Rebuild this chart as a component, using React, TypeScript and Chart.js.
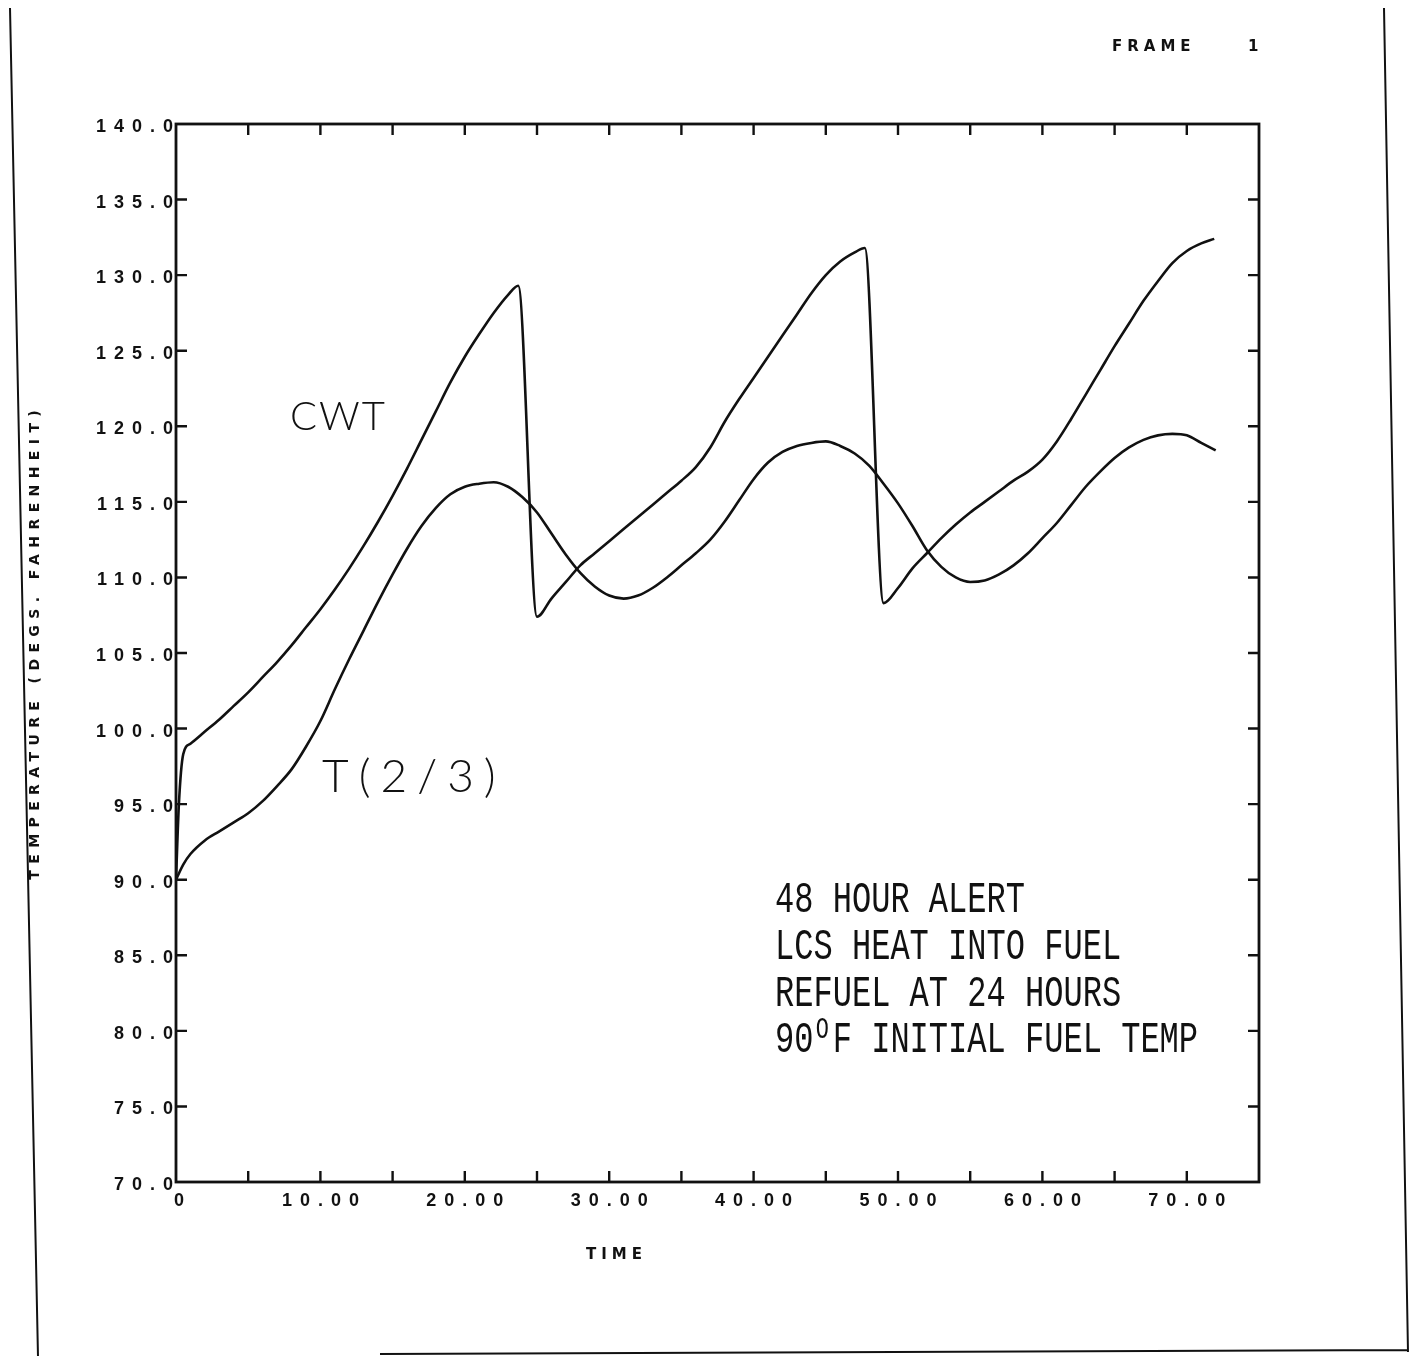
import { useEffect, useRef } from 'react';
import { Chart, registerables } from 'chart.js';

Chart.register(...registerables);

// ---- data ----
const cwtTime = [0, 0.2, 0.5, 1, 2, 3, 4, 5, 6, 7, 8, 9, 10, 11, 12, 13, 14, 15, 16, 17, 18, 19, 20, 21, 22, 23, 23.7, 25.0, 26, 27, 28, 29, 30, 31, 32, 33, 34, 35, 36, 37, 38, 39, 40, 41, 42, 43, 44, 45, 46, 47, 47.7, 49.0, 50, 51, 52, 53, 54, 55, 56, 57, 58, 59, 60, 61, 62, 63, 64, 65, 66, 67, 68, 69, 70, 71, 71.9];
const cwtTemp = [90, 95, 98.3, 99.0, 99.8, 100.6, 101.5, 102.4, 103.4, 104.4, 105.5, 106.7, 107.9, 109.2, 110.6, 112.1, 113.7, 115.4, 117.2, 119.1, 121.0, 122.9, 124.6, 126.1, 127.5, 128.7, 129.3, 107.4, 108.6, 109.7, 110.8, 111.6, 112.4, 113.2, 114.0, 114.8, 115.6, 116.4, 117.3, 118.6, 120.3, 121.8, 123.2, 124.6, 126.0, 127.4, 128.8, 130.0, 130.9, 131.5, 131.8, 108.3, 109.3, 110.6, 111.6, 112.6, 113.5, 114.3, 115.0, 115.7, 116.4, 117.0, 117.8, 119.0, 120.5, 122.1, 123.7, 125.3, 126.8, 128.3, 129.6, 130.8, 131.6, 132.1, 132.4];

const t23Time = [0, 0.5, 1, 2, 3, 4, 5, 6, 7, 8, 9, 10, 11, 12, 13, 14, 15, 16, 17, 18, 19, 20, 21, 22, 23, 24, 25, 26, 27, 28, 29, 30, 31, 32, 33, 34, 35, 36, 37, 38, 39, 40, 41, 42, 43, 44, 45, 46, 47, 48, 49, 50, 51, 52, 53, 54, 55, 56, 57, 58, 59, 60, 61, 62, 63, 64, 65, 66, 67, 68, 69, 70, 71, 72];
const t23Temp = [90, 91.0, 91.7, 92.6, 93.2, 93.8, 94.4, 95.2, 96.2, 97.3, 98.8, 100.5, 102.6, 104.6, 106.5, 108.4, 110.2, 111.9, 113.4, 114.6, 115.5, 116.0, 116.2, 116.3, 116.0, 115.3, 114.3, 112.9, 111.5, 110.3, 109.4, 108.8, 108.6, 108.8, 109.3, 110.0, 110.8, 111.6, 112.5, 113.7, 115.1, 116.5, 117.6, 118.3, 118.7, 118.9, 119.0, 118.7, 118.2, 117.4, 116.2, 114.9, 113.4, 111.8, 110.7, 110.0, 109.7, 109.8, 110.2, 110.8, 111.6, 112.6, 113.6, 114.8, 116.0, 117.0, 117.9, 118.6, 119.1, 119.4, 119.5, 119.4, 118.9, 118.4];

const xTickValues = [0, 10, 20, 30, 40, 50, 60, 70];
const xTickLabels = ['0', '10.00', '20.00', '30.00', '40.00', '50.00', '60.00', '70.00'];
const xMinorTicks = [5, 10, 15, 20, 25, 30, 35, 40, 45, 50, 55, 60, 65, 70];
const yTickValues = [70, 75, 80, 85, 90, 95, 100, 105, 110, 115, 120, 125, 130, 135, 140];
const yTickLabels = ['70.0', '75.0', '80.0', '85.0', '90.0', '95.0', '100.0', '105.0', '110.0', '115.0', '120.0', '125.0', '130.0', '135.0', '140.0'];
const yMinorTicks = [75, 80, 85, 90, 95, 100, 105, 110, 115, 120, 125, 130, 135];

const xTitle = 'TIME';
const yTitle = 'TEMPERATURE (DEGS. FAHRENHEIT)';
const frameLabel = 'FRAME';
const frameNumber = '1';
const noteLines = ['48 HOUR ALERT', 'LCS HEAT INTO FUEL', 'REFUEL AT 24 HOURS'];
const noteLast = { base: '90', sup: 'O', rest: 'F INITIAL FUEL TEMP' };
const seriesNames = ['CWT', 'T(2/3)'];

const W = 1401;
const H = 1348;

function spacedWidth(ctx: CanvasRenderingContext2D, s: string, sp: number) {
  return ctx.measureText(s).width - sp;
}

const decorPlugin = {
  id: 'decor',
  afterDraw(chart: any) {
    const ctx: CanvasRenderingContext2D = chart.ctx;
    const { left, right, top, bottom } = chart.chartArea;
    const xs = chart.scales.x;
    const ys = chart.scales.y;
    ctx.save();
    ctx.strokeStyle = '#111';
    ctx.fillStyle = '#111';

    // page border (scan frame)
    ctx.lineWidth = 2;
    ctx.beginPath();
    ctx.moveTo(2, 0);
    ctx.lineTo(30, H);
    ctx.moveTo(1376, 0);
    ctx.lineTo(1400, 1344);
    ctx.moveTo(372, 1346);
    ctx.lineTo(1400, 1342);
    ctx.stroke();

    // plot frame
    ctx.lineWidth = 2.8;
    ctx.strokeRect(left, top, right - left, bottom - top);

    // inward ticks
    ctx.lineWidth = 2.4;
    ctx.beginPath();
    const tl = 11;
    xMinorTicks.forEach((v) => {
      const px = xs.getPixelForValue(v);
      ctx.moveTo(px, bottom);
      ctx.lineTo(px, bottom - tl);
      ctx.moveTo(px, top);
      ctx.lineTo(px, top + tl);
    });
    yMinorTicks.forEach((v) => {
      const py = ys.getPixelForValue(v);
      ctx.moveTo(left, py);
      ctx.lineTo(left + tl, py);
      ctx.moveTo(right, py);
      ctx.lineTo(right - tl, py);
    });
    ctx.stroke();

    // tick labels
    const sp = 8;
    (ctx as any).letterSpacing = sp + 'px';
    ctx.font = 'bold 18px "Liberation Sans", "DejaVu Sans", sans-serif';
    ctx.textBaseline = 'middle';
    ctx.textAlign = 'left';
    yTickValues.forEach((v, i) => {
      const py = ys.getPixelForValue(v);
      const s = yTickLabels[i];
      const w = spacedWidth(ctx, s, sp);
      ctx.fillText(s, left - 3 - w, py + 3);
    });
    xTickValues.forEach((v, i) => {
      const px = xs.getPixelForValue(v);
      const s = xTickLabels[i];
      const w = spacedWidth(ctx, s, sp);
      const dx = i === 0 ? 3 : 0;
      ctx.fillText(s, px - w / 2 + dx, bottom + 19);
    });

    // axis titles
    ctx.font = 'bold 15px "DejaVu Sans", sans-serif';
    (ctx as any).letterSpacing = '5px';
    ctx.fillText(xTitle, 606 - spacedWidth(ctx, xTitle, 5) / 2, 1247);
    ctx.fillText(frameLabel, 1104, 39);
    ctx.fillText(frameNumber, 1240, 39);

    ctx.save();
    ctx.translate(27, 637);
    ctx.rotate(-Math.PI / 2);
    ctx.font = 'bold 14px "DejaVu Sans", sans-serif';
    (ctx as any).letterSpacing = '6.4px';
    const tw = spacedWidth(ctx, yTitle, 6.4);
    ctx.fillText(yTitle, -tw / 2, 0);
    ctx.restore();

    // typed note (monospaced)
    (ctx as any).letterSpacing = '0px';
    ctx.textBaseline = 'alphabetic';
    const monoFont = '44px "Liberation Mono", "DejaVu Sans Mono", monospace';
    ctx.font = monoFont;
    const pitch = 250 / 13;
    const scaleX = pitch / ctx.measureText('M').width;
    const nx = 767;
    const baselines = [904, 951, 998, 1044];
    noteLines.forEach((s, i) => {
      ctx.save();
      ctx.translate(nx, baselines[i]);
      ctx.scale(scaleX, 1);
      ctx.fillText(s, 0, 0);
      ctx.restore();
    });
    ctx.save();
    ctx.translate(nx, baselines[3]);
    ctx.scale(scaleX, 1);
    const adv = pitch / scaleX;
    ctx.fillText(noteLast.base, 0, 0);
    ctx.font = '30px "Liberation Mono", "DejaVu Sans Mono", monospace';
    ctx.fillText(noteLast.sup, adv * 2 + 3, -14);
    ctx.font = monoFont;
    ctx.fillText(noteLast.rest, adv * 3, 0);
    ctx.restore();

    // handwritten curve labels
    ctx.font = '300 40px Lato, "DejaVu Sans", sans-serif';
    (ctx as any).letterSpacing = '2px';
    ctx.fillText(seriesNames[0], 282, 422);
    ctx.font = '300 46px Lato, "DejaVu Sans", sans-serif';
    (ctx as any).letterSpacing = '10px';
    ctx.fillText(seriesNames[1], 314, 784);

    ctx.restore();
  },
};

export default function App() {
  const ref = useRef<HTMLCanvasElement | null>(null);
  useEffect(() => {
    if (!ref.current) return;
    const cwtData = cwtTime.map((t, i) => ({ x: t, y: cwtTemp[i] }));
    const t23Data = t23Time.map((t, i) => ({ x: t, y: t23Temp[i] }));
    const chart = new Chart(ref.current, {
      type: 'line',
      data: {
        datasets: [
          { label: seriesNames[0], data: cwtData, borderColor: '#111', borderWidth: 2.6, pointRadius: 0, cubicInterpolationMode: 'monotone', fill: false },
          { label: seriesNames[1], data: t23Data, borderColor: '#111', borderWidth: 2.6, pointRadius: 0, cubicInterpolationMode: 'monotone', fill: false },
        ],
      },
      options: {
        animation: false,
        responsive: false,
        devicePixelRatio: 1,
        layout: { padding: { left: 0, top: 116, right: 150, bottom: 0 } },
        plugins: { legend: { display: false }, tooltip: { enabled: false } },
        scales: {
          x: {
            type: 'linear', min: 0, max: 75,
            ticks: { display: false }, grid: { display: false }, border: { display: false },
            afterFit: (s: any) => { s.height = 174; },
          },
          y: {
            type: 'linear', min: 70, max: 140,
            ticks: { display: false }, grid: { display: false }, border: { display: false },
            afterFit: (s: any) => { s.width = 168; },
          },
        },
      },
      plugins: [decorPlugin],
    } as any);
    return () => chart.destroy();
  }, []);
  return (
    <div style={{ width: W, height: H, background: '#fff' }}>
      <canvas ref={ref} width={W} height={H} style={{ display: 'block', width: W, height: H }} />
    </div>
  );
}
